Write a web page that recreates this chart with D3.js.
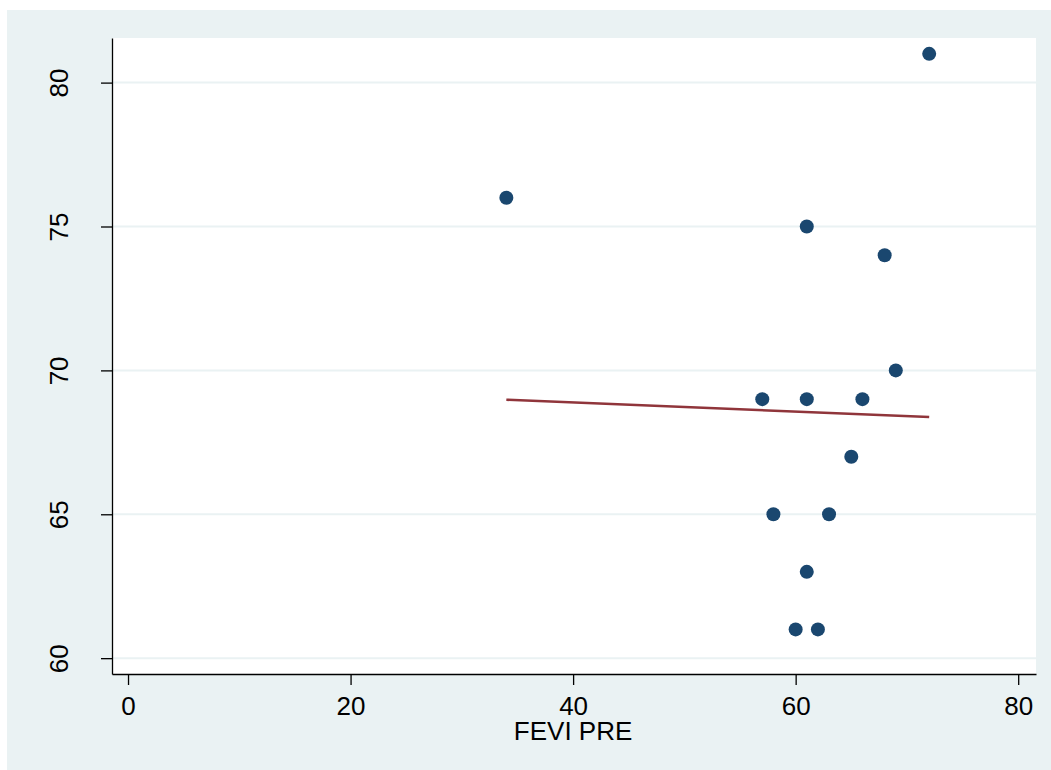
<!DOCTYPE html>
<html>
<head>
<meta charset="utf-8">
<script src="https://cdn.jsdelivr.net/npm/d3@7"></script>
<style>
  body { margin: 0; background: #fff; }
  text { font-family: "Liberation Sans", Arial, sans-serif; fill: #000; }
</style>
</head>
<body>
<div id="chart"></div>
<script>
// data
var fevPre = [34, 61, 68, 72, 69, 57, 61, 66, 65, 58, 63, 61, 60, 62];
var fevPost = [76, 75, 74, 81, 70, 69, 69, 69, 67, 65, 65, 63, 61, 61];
var fitX = [34, 72];
var fitY = [68.98, 68.38];
var xTicks = [0, 20, 40, 60, 80];
var yTicks = [60, 65, 70, 75, 80];

var svgWidth = 1051;
var svgHeight = 770;

var margin = { top: 38, right: 15, bottom: 96, left: 112 };
var width = svgWidth - margin.left - margin.right;
var height = svgHeight - margin.top - margin.bottom;

var svg = d3.select("#chart")
  .append("svg")
  .attr("width", svgWidth)
  .attr("height", svgHeight);

// outer graph region
svg.append("rect")
  .attr("x", 7)
  .attr("y", 10)
  .attr("width", svgWidth - 7)
  .attr("height", svgHeight - 10)
  .attr("fill", "#eaf2f3");

var chartGroup = svg.append("g")
  .attr("transform", `translate(${margin.left}, ${margin.top})`);

chartGroup.append("rect")
  .attr("width", width)
  .attr("height", height)
  .attr("fill", "#fff");

var x = d3.scaleLinear()
  .domain([-1.44, 81.6])
  .range([0, width]);

var y = d3.scaleLinear()
  .domain([59.45, 81.55])
  .range([height, 0]);

// gridlines
chartGroup.selectAll(".grid")
  .data(yTicks)
  .enter()
  .append("line")
  .attr("x1", 0)
  .attr("x2", width)
  .attr("y1", d => y(d))
  .attr("y2", d => y(d))
  .attr("stroke", "#eaf2f3")
  .attr("stroke-width", 2);

// axes
var bottomAxis = d3.axisBottom(x).tickValues(xTicks).tickSize(11).tickPadding(12).tickSizeOuter(0);
var leftAxis = d3.axisLeft(y).tickValues(yTicks).tickSize(11).tickPadding(0).tickSizeOuter(0);

var xAxisG = chartGroup.append("g")
  .attr("transform", `translate(0, ${height})`)
  .call(bottomAxis);

var yAxisG = chartGroup.append("g")
  .call(leftAxis);

[xAxisG, yAxisG].forEach(function(g) {
  g.select(".domain").attr("stroke", "#000").attr("stroke-width", 1.3);
  g.selectAll(".tick line").attr("stroke", "#000").attr("stroke-width", 1.3);
  g.selectAll(".tick text")
    .attr("font-size", 26)
    .attr("font-family", "Liberation Sans, Arial, sans-serif")
    .attr("fill", "#000");
});

xAxisG.selectAll(".tick text").attr("dy", "0.71em");

yAxisG.selectAll(".tick text")
  .attr("text-anchor", "middle")
  .attr("x", 0)
  .attr("dy", 0)
  .attr("transform", "translate(-44, 0) rotate(-90)");

// fitted line
var fitLine = d3.line()
  .x(d => x(d[0]))
  .y(d => y(d[1]));

chartGroup.append("path")
  .datum(fitX.map((v, i) => [v, fitY[i]]))
  .attr("d", fitLine)
  .attr("fill", "none")
  .attr("stroke", "#90353b")
  .attr("stroke-width", 2.6);

// points
chartGroup.selectAll("circle")
  .data(fevPre)
  .enter()
  .append("circle")
  .attr("cx", d => x(d))
  .attr("cy", (d, i) => y(fevPost[i]))
  .attr("r", 7)
  .attr("fill", "#1a476f");

// axis title
chartGroup.append("text")
  .attr("x", x(40))
  .attr("y", height + 66)
  .attr("text-anchor", "middle")
  .attr("font-size", 26)
  .text("FEVI PRE");
</script>
</body>
</html>
